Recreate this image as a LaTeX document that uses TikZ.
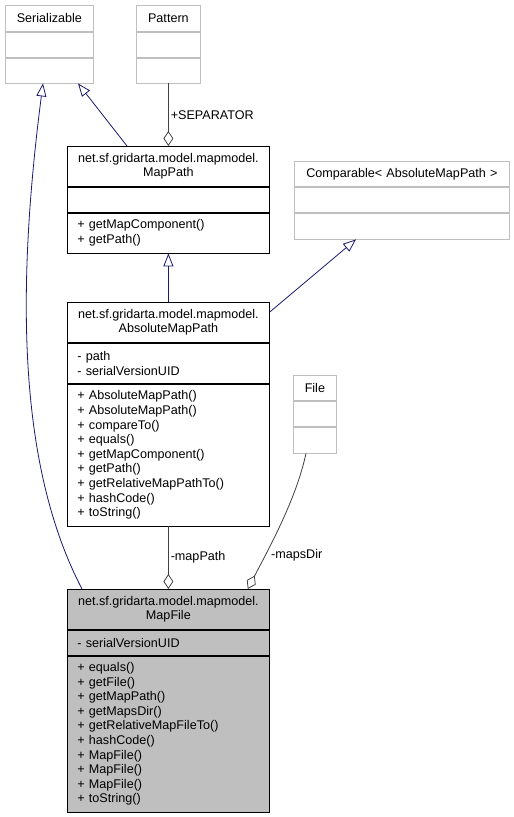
\documentclass[tikz,border=0pt]{standalone}
\usepackage{fontspec}
\setmainfont{Liberation Sans}
\usetikzlibrary{positioning, arrows.meta}

\definecolor{edgeblue}{HTML}{191970}
\definecolor{edgegray}{HTML}{404040}
\definecolor{extgray}{HTML}{BFBFBF}
\definecolor{mffill}{HTML}{BFBFBF}
\newcommand{\umlfont}{\fontsize{12.6}{14.6}\selectfont}

\tikzset{
    cls/.style={draw=black, line width=0.8pt, inner ysep=0pt, inner xsep=0pt, minimum height=25pt, font=\umlfont},
    ttl/.style={cls, align=center},
    mem/.style={cls, align=left, inner xsep=10pt},
    ext/.style={draw=extgray},
    inh/.style={draw=edgeblue, line width=0.8pt, -{Triangle[open, length=13pt, width=10pt]}},
    agg/.style={draw=edgegray, line width=0.8pt, -{Diamond[open, length=15pt, width=10pt]}},
    lbl/.style={font=\umlfont, inner sep=2pt}
}

\begin{document}
\begin{tikzpicture}[x=1pt, y=-1pt]
    \useasboundingbox (0,0) rectangle (514,817);

    % Serializable
    \node[ttl, ext, anchor=north west, text width=88pt, minimum height=26pt] (serT) at (5,5) {Serializable};
    \node[ttl, ext, text width=88pt, below=0pt of serT] (serA) {};
    \node[ttl, ext, text width=88pt, below=0pt of serA] (serO) {};

    % Pattern
    \node[ttl, ext, anchor=north west, text width=64pt, minimum height=26pt] (patT) at (136,5) {Pattern};
    \node[ttl, ext, text width=64pt, below=0pt of patT] (patA) {};
    \node[ttl, ext, text width=64pt, below=0pt of patA] (patO) {};

    % MapPath
    \node[ttl, anchor=north west, text width=202pt, minimum height=40pt] (mpT) at (67,146) {net.sf.gridarta.model.mapmodel.\\MapPath};
    \node[mem, text width=182pt, below=0pt of mpT] (mpA) {};
    \node[mem, text width=182pt, minimum height=40pt, below=0pt of mpA] (mpO) {+ getMapComponent()\\+ getPath()};

    % Comparable
    \node[ttl, ext, anchor=north west, text width=215pt] (cmpT) at (294,161) {Comparable< AbsoluteMapPath >};
    \node[ttl, ext, text width=215pt, minimum height=25.5pt, below=0pt of cmpT] (cmpA) {};
    \node[ttl, ext, text width=215pt, minimum height=25.5pt, below=0pt of cmpA] (cmpO) {};

    % AbsoluteMapPath
    \node[ttl, anchor=north west, text width=202pt, minimum height=40pt] (ampT) at (67,302) {net.sf.gridarta.model.mapmodel.\\AbsoluteMapPath};
    \node[mem, text width=182pt, minimum height=40pt, below=0pt of ampT] (ampA) {- path\\- serialVersionUID};
    \node[mem, text width=182pt, minimum height=142pt, below=0pt of ampA] (ampO) {+ AbsoluteMapPath()\\+ AbsoluteMapPath()\\+ compareTo()\\+ equals()\\+ getMapComponent()\\+ getPath()\\+ getRelativeMapPathTo()\\+ hashCode()\\+ toString()};

    % File
    \node[ttl, ext, anchor=north west, text width=43pt] (fileT) at (293,375) {File};
    \node[ttl, ext, text width=43pt, minimum height=25.5pt, below=0pt of fileT] (fileA) {};
    \node[ttl, ext, text width=43pt, minimum height=25.5pt, below=0pt of fileA] (fileO) {};

    % MapFile
    \node[ttl, fill=mffill, anchor=north west, text width=202pt, minimum height=40pt] (mfT) at (67,589) {net.sf.gridarta.model.mapmodel.\\MapFile};
    \node[mem, fill=mffill, text width=182pt, below=0pt of mfT] (mfA) {- serialVersionUID};
    \node[mem, fill=mffill, text width=182pt, minimum height=156pt, below=0pt of mfA] (mfO) {+ equals()\\+ getFile()\\+ getMapPath()\\+ getMapsDir()\\+ getRelativeMapFileTo()\\+ hashCode()\\+ MapFile()\\+ MapFile()\\+ MapFile()\\+ toString()};

    % Inheritance
    \draw[inh] ([xshift=15pt]mfT.north west) .. controls (20,470) and (15,300) .. ([xshift=38pt]serO.south west);
    \draw[inh] ([xshift=60pt]mpT.north west) -- ([xshift=73pt]serO.south west);
    \draw[inh] (ampT.north) -- (mpO.south);
    \draw[inh] ([yshift=-10pt]ampT.north east) -- ([xshift=62pt]cmpO.south west);

    % Aggregation
    \draw[agg] (patO.south) -- node[lbl, right] (lblSep) {+SEPARATOR} (mpT.north);
    \draw[agg] (ampO.south) -- node[lbl, right] (lblPath) {-mapPath} (mfT.north);
    \draw[agg] ([xshift=13pt]fileO.south west) .. controls (296,500) and (268,550) .. ([xshift=-22pt]mfT.north east);
    \node[lbl, anchor=west] (lblDir) at (269,555) {-mapsDir};

\end{tikzpicture}
\end{document}
